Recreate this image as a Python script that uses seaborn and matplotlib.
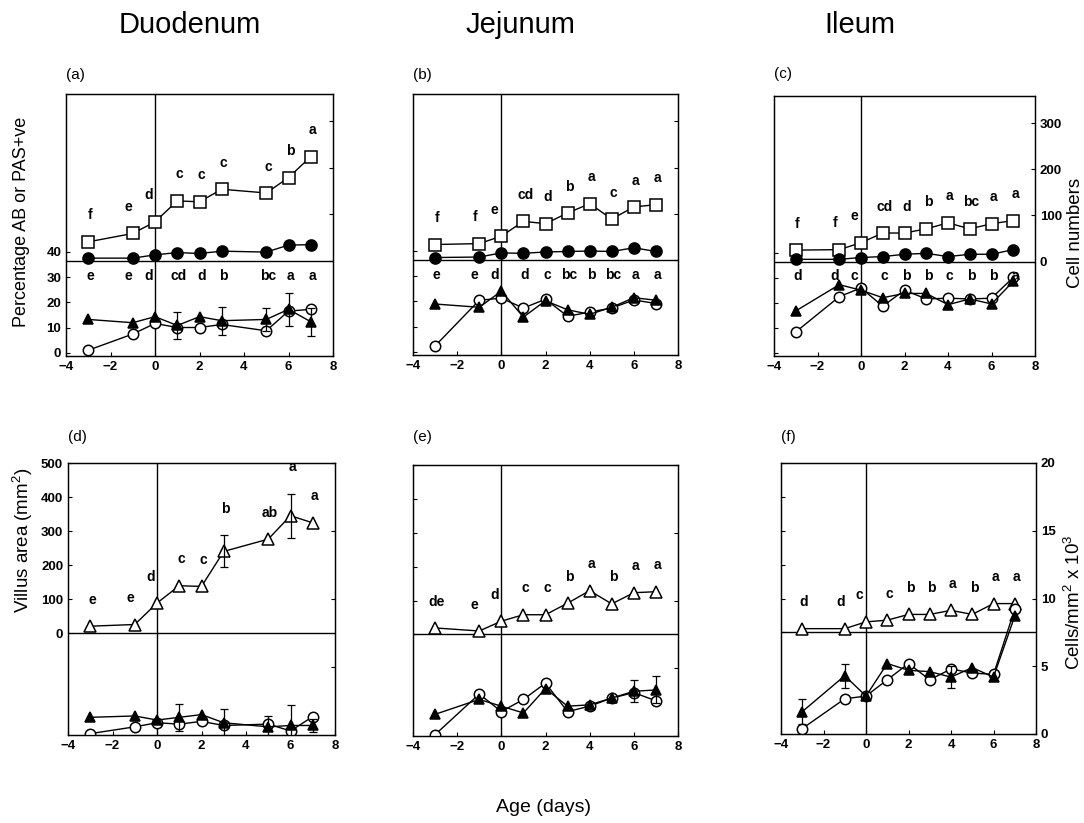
import matplotlib
matplotlib.use("Agg")
import matplotlib.pyplot as plt
import numpy as np
import seaborn as sns

# ---- data ----
DAYS_DUO = [-3, -1, 0, 1, 2, 3, 5, 6, 7]
DAYS = [-3, -1, 0, 1, 2, 3, 4, 5, 6, 7]

# top row: cell numbers (upper part) and percentage AB / PAS+ve (lower part)
duo_cells_sq = [41, 59, 84, 129, 127, 154, 146, 179, 224]
duo_cells_fc = [6, 6, 13, 18, 16, 21, 19, 34, 35]
duo_pct_tri = [13.2, 11.9, 14.3, 10.8, 14.3, 12.7, 13.2, 17.2, 12.3]
duo_pct_oc = [1.0, 7.4, 11.6, 10.0, 10.0, 11.2, 8.7, 16.5, 17.2]
duo_pct_err = [0, 0, 0, 5.5, 0, 5.5, 4.5, 6.5, 5.5]
duo_sq_letters = ['f', 'e', 'd', 'c', 'c', 'c', 'c', 'b', 'a']
duo_pct_letters = ['e', 'e', 'd', 'cd', 'd', 'b', 'bc', 'a', 'a']

jej_cells_sq = [34, 36, 52, 84, 79, 102, 122, 89, 115, 120]
jej_cells_fc = [6, 7, 16, 15, 18, 19, 20, 19, 27, 19]
jej_pct_tri = [19.0, 17.7, 24.1, 13.8, 20.3, 16.7, 14.9, 17.7, 21.5, 20.5]
jej_pct_oc = [2.3, 20.5, 21.3, 17.4, 20.9, 14.1, 15.8, 17.4, 20.6, 19.2]
jej_sq_letters = ['f', 'f', 'e', 'cd', 'd', 'b', 'a', 'c', 'a', 'a']
jej_pct_letters = ['e', 'e', 'd', 'd', 'c', 'bc', 'b', 'bc', 'a', 'a']

ile_cells_sq = [25, 26, 41, 62, 62, 71, 84, 71, 82, 89]
ile_cells_fc = [5, 5, 9, 11, 16, 18, 11, 16, 16, 26]
ile_pct_tri = [16.7, 27.2, 25.0, 22.0, 23.7, 23.7, 19.2, 21.5, 19.5, 28.5]
ile_pct_oc = [8.3, 22.4, 25.9, 18.6, 25.0, 21.5, 21.8, 21.5, 21.8, 30.1]
ile_sq_letters = ['f', 'f', 'e', 'cd', 'd', 'b', 'a', 'bc', 'a', 'a']
ile_pct_letters = ['d', 'd', 'c', 'c', 'b', 'b', 'c', 'b', 'b', 'a']

# bottom row: villus area (upper part) and cells/mm2 x 10^3 (lower part)
duo_villus = [20, 25, 88, 139, 137, 240, 276, 345, 324]
duo_villus_err = [0, 0, 0, 0, 0, 47, 0, 65, 0]
duo_villus_letters = ['e', 'e', 'd', 'c', 'c', 'b', 'ab', 'a', 'a']
duo_dens_tri = [1.3, 1.4, 1.1, 1.3, 1.5, 0.9, 0.6, 0.7, 0.7]
duo_dens_oc = [0.1, 0.6, 0.9, 0.8, 1.0, 0.7, 0.8, 0.3, 1.35]
duo_dens_err = [0, 0, 0, 1.0, 0, 1.0, 0.8, 1.5, 0.5]

jej_villus = [19, 10, 39, 58, 58, 92, 129, 90, 123, 126]
jej_villus_err = [0] * 10
jej_villus_letters = ['de', 'e', 'd', 'c', 'c', 'b', 'a', 'b', 'a', 'a']
jej_dens_tri = [1.6, 2.7, 2.2, 1.7, 3.5, 2.2, 2.3, 2.8, 3.3, 3.4]
jej_dens_oc = [0.1, 3.1, 1.8, 2.7, 3.9, 1.8, 2.2, 2.8, 3.2, 2.6]
jej_dens_err = [0, 0, 0, 0, 0, 0, 0, 0, 0.8, 1.0]

ile_villus = [11, 11, 31, 36, 53, 53, 65, 53, 85, 85]
ile_villus_err = [0] * 10
ile_villus_letters = ['d', 'd', 'c', 'c', 'b', 'b', 'a', 'b', 'a', 'a']
ile_dens_tri = [1.65, 4.3, 2.8, 5.2, 4.7, 4.6, 4.2, 4.9, 4.2, 8.7]
ile_dens_oc = [0.4, 2.6, 2.8, 4.0, 5.2, 4.0, 4.8, 4.5, 4.4, 9.2]
ile_dens_err = [0.9, 0.9, 0, 0, 0, 0, 0.8, 0, 0, 0]

SECTIONS = ['Duodenum', 'Jejunum', 'Ileum']
PANEL_TAGS = ['(a)', '(b)', '(c)', '(d)', '(e)', '(f)']

# ---- style ----
sns.set_style("ticks")
plt.rcParams['font.family'] = ['Liberation Sans', 'DejaVu Sans']
plt.rcParams['mathtext.fontset'] = 'custom'
plt.rcParams['mathtext.rm'] = 'Liberation Sans'
plt.rcParams['mathtext.it'] = 'Liberation Sans:italic'
plt.rcParams['mathtext.bf'] = 'Liberation Sans:bold'
for key in ['text.color', 'axes.labelcolor', 'xtick.color', 'ytick.color', 'axes.edgecolor']:
    plt.rcParams[key] = 'black'
plt.rcParams['xtick.direction'] = 'in'
plt.rcParams['ytick.direction'] = 'in'
plt.rcParams['xtick.major.size'] = 3
plt.rcParams['ytick.major.size'] = 3
plt.rcParams['axes.linewidth'] = 0.9

W, H = 1084, 823
fig = plt.figure(figsize=(W / 100, H / 100), dpi=100)


def rect(l, t, r, b):
    return [l / W, 1 - b / H, (r - l) / W, (b - t) / H]


boxes_top = [(66, 94, 333, 356), (413, 94, 678, 355), (774, 96, 1035, 356)]
boxes_bot = [(68, 463, 335, 735), (413, 465, 678, 736), (781, 463, 1036, 734)]

PCT_LIM = (-1.3, 102.6)
PCT_DIV = 36.4
CELLS_PER_PCT = 5.417
CELL_LIM = ((PCT_LIM[0] - PCT_DIV) * CELLS_PER_PCT, (PCT_LIM[1] - PCT_DIV) * CELLS_PER_PCT)


def shift(day):
    return {-1: -0.2, 0: -0.3}.get(day, 0.08)


def line(ax, x, y, marker, filled, ms):
    sns.lineplot(x=x, y=y, ax=ax, color='black', lw=1.0, marker=marker, markersize=ms,
                 markerfacecolor='black' if filled else 'white', markeredgecolor='black',
                 markeredgewidth=1.1, errorbar=None)


def errbars(ax, x, y, err):
    x, y, err = np.array(x), np.array(y), np.array(err)
    m = err > 0
    ax.errorbar(x[m], y[m], yerr=err[m], fmt='none', ecolor='black', elinewidth=0.9, capsize=3, capthick=0.9)


def bold_ticks(ax):
    for t in ax.get_xticklabels() + ax.get_yticklabels():
        t.set_fontweight('bold')
        t.set_fontsize(9.5)


def frame(ax, ax2):
    ax.set_xlim(-4, 8)
    ax.set_xticks([-4, -2, 0, 2, 4, 6, 8])
    ax.axvline(0, color='black', lw=1.0)
    for a in (ax, ax2):
        for s in a.spines.values():
            s.set_visible(True)
            s.set_color('black')
            s.set_linewidth(0.9)


# ---- top row ----
top = [
    (DAYS_DUO, duo_cells_sq, duo_cells_fc, duo_pct_tri, duo_pct_oc, duo_pct_err, duo_sq_letters, duo_pct_letters),
    (DAYS, jej_cells_sq, jej_cells_fc, jej_pct_tri, jej_pct_oc, [0] * 10, jej_sq_letters, jej_pct_letters),
    (DAYS, ile_cells_sq, ile_cells_fc, ile_pct_tri, ile_pct_oc, [0] * 10, ile_sq_letters, ile_pct_letters),
]
for i, (days, sq, fc, tri, oc, err, sq_let, pct_let) in enumerate(top):
    ax = fig.add_axes(rect(*boxes_top[i]))
    ax2 = ax.twinx()
    frame(ax, ax2)
    ax.set_ylim(*PCT_LIM)
    ax2.set_ylim(*CELL_LIM)
    ax.axhline(PCT_DIV, color='black', lw=1.0)

    line(ax, days, oc, 'o', False, 7.5)
    line(ax, days, tri, '^', True, 7.5)
    errbars(ax, days, tri, err)
    line(ax2, days, sq, 's', False, 8)
    line(ax2, days, fc, 'o', True, 8)

    for d, v, s in zip(days, sq, sq_let):
        ax2.annotate(s, (d + shift(d), v), xytext=(0, 19), textcoords='offset points',
                     ha='center', va='center', fontsize=10, fontweight='bold')
    for d, s in zip(days, pct_let):
        ax.text(d + shift(d), 30.5, s, ha='center', va='center', fontsize=10, fontweight='bold')

    ax.set_yticks([0, 10, 20, 30, 40])
    ax2.set_yticks([0, 100, 200, 300])
    if i != 0:
        ax.set_yticklabels([])
    if i != 2:
        ax2.set_yticklabels([])
    bold_ticks(ax)
    bold_ticks(ax2)
    ax.set_xlabel('')
    ax.set_ylabel('')
    ax2.set_ylabel('')

# ---- bottom row ----
bottom = [
    (DAYS_DUO, duo_villus, duo_villus_err, duo_villus_letters, duo_dens_tri, duo_dens_oc, duo_dens_err),
    (DAYS, jej_villus, jej_villus_err, jej_villus_letters, jej_dens_tri, jej_dens_oc, jej_dens_err),
    (DAYS, ile_villus, ile_villus_err, ile_villus_letters, ile_dens_tri, ile_dens_oc, ile_dens_err),
]
for i, (days, va, va_err, va_let, tri, oc, err) in enumerate(bottom):
    ax = fig.add_axes(rect(*boxes_bot[i]))
    ax2 = ax.twinx()
    frame(ax, ax2)
    ax.set_ylim(-300, 500)
    ax2.set_ylim(0, 20)
    ax.axhline(0, color='black', lw=1.0)

    line(ax, days, va, '^', False, 8)
    errbars(ax, days, va, va_err)
    line(ax2, days, oc, 'o', False, 7.5)
    line(ax2, days, tri, '^', True, 7.5)
    errbars(ax2, days, tri, err)

    for d, v, e, s in zip(days, va, va_err, va_let):
        ax.annotate(s, (d + shift(d), v + e), xytext=(0, 19), textcoords='offset points',
                    ha='center', va='center', fontsize=10, fontweight='bold')

    ax.set_yticks([0, 100, 200, 300, 400, 500])
    ax2.set_yticks([0, 5, 10, 15, 20])
    if i != 0:
        ax.set_yticklabels([])
    if i != 2:
        ax2.set_yticklabels([])
    bold_ticks(ax)
    bold_ticks(ax2)
    ax.set_xlabel('')
    ax.set_ylabel('')
    ax2.set_ylabel('')

# ---- figure text ----
for name, x in zip(SECTIONS, [190, 520, 860]):
    fig.text(x / W, 1 - 25 / H, name, ha='center', va='center', fontsize=21)

tag_pos = [(66, 75), (413, 75), (774, 74), (68, 437), (413, 437), (781, 437)]
for tag, (x, y) in zip(PANEL_TAGS, tag_pos):
    fig.text(x / W, 1 - y / H, tag, ha='left', va='center', fontsize=11)

fig.text(22 / W, 1 - 222 / H, 'Percentage AB or PAS+ve', rotation=90, ha='center', va='center', fontsize=13)
fig.text(1075 / W, 1 - 233 / H, 'Cell numbers', rotation=90, ha='center', va='center', fontsize=13.5)
fig.text(23 / W, 1 - 540 / H, r'Villus area (mm$^2$)', rotation=90, ha='center', va='center', fontsize=13.5)
fig.text(1074 / W, 1 - 602 / H, r'Cells/mm$^2$ x 10$^3$', rotation=90, ha='center', va='center', fontsize=13.5)
fig.text(543 / W, 1 - 808 / H, 'Age (days)', ha='center', va='center', fontsize=14)

fig.savefig('out.png', dpi=100)
